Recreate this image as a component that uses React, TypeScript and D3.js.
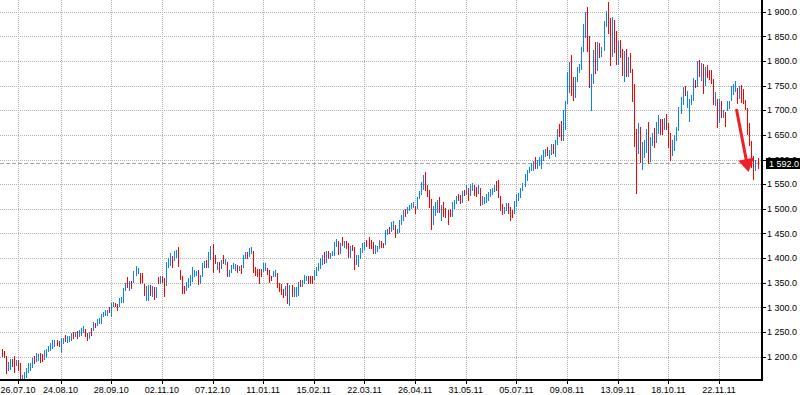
import React from "react";
import * as d3 from "d3";

// daily bars (high / low per bar, u = up bar, d = down bar)
const highs = [
  1216, 1212, 1201, 1190, 1196, 1196, 1201, 1194, 1193, 1187,
  1163, 1169, 1178, 1187, 1188, 1197, 1202, 1208, 1206, 1208,
  1206, 1214, 1215, 1222, 1228, 1233, 1234, 1234, 1231, 1238,
  1238, 1245, 1241, 1242, 1249, 1250, 1251, 1252, 1255, 1258,
  1263, 1256, 1249, 1251, 1258, 1271, 1269, 1276, 1278, 1287,
  1290, 1294, 1295, 1300, 1309, 1312, 1309, 1307, 1319, 1322,
  1339, 1350, 1362, 1354, 1354, 1373, 1384, 1379, 1370, 1369,
  1347, 1343, 1345, 1345, 1343, 1342, 1342, 1362, 1363, 1363,
  1360, 1393, 1400, 1411, 1405, 1415, 1416, 1422, 1376, 1363,
  1343, 1352, 1359, 1366, 1381, 1376, 1373, 1375, 1366, 1390,
  1395, 1396, 1413, 1425, 1429, 1406, 1393, 1392, 1396, 1406,
  1398, 1393, 1376, 1386, 1391, 1388, 1386, 1384, 1386, 1406,
  1412, 1413, 1420, 1422, 1415, 1383, 1377, 1377, 1377, 1390,
  1390, 1379, 1375, 1364, 1373, 1376, 1369, 1349, 1347, 1337,
  1344, 1349, 1346, 1346, 1342, 1342, 1352, 1355, 1355, 1366,
  1364, 1364, 1364, 1363, 1376, 1383, 1390, 1400, 1406, 1412,
  1415, 1415, 1410, 1415, 1433, 1439, 1435, 1430, 1442, 1435,
  1435, 1430, 1425, 1427, 1422, 1406, 1406, 1420, 1431, 1433,
  1437, 1443, 1437, 1433, 1427, 1425, 1437, 1435, 1431, 1457,
  1460, 1464, 1474, 1475, 1467, 1460, 1477, 1487, 1497, 1499,
  1504, 1507, 1511, 1514, 1505, 1524, 1536, 1555, 1568, 1575,
  1548, 1539, 1519, 1505, 1514, 1518, 1524, 1507, 1514, 1501,
  1497, 1499, 1514, 1518, 1526, 1530, 1528, 1537, 1539, 1548,
  1543, 1551, 1553, 1548, 1545, 1548, 1543, 1526, 1524, 1531,
  1534, 1541, 1543, 1548, 1557, 1558, 1526, 1510, 1504, 1512,
  1511, 1503, 1497, 1516, 1531, 1532, 1543, 1553, 1570, 1578,
  1585, 1593, 1598, 1605, 1600, 1605, 1609, 1619, 1622, 1626,
  1620, 1632, 1631, 1640, 1661, 1673, 1679, 1700, 1719, 1777,
  1798, 1813, 1767, 1767, 1787, 1793, 1828, 1876, 1899, 1910,
  1851, 1773, 1822, 1838, 1838, 1836, 1829, 1882, 1901, 1919,
  1887, 1889, 1883, 1860, 1841, 1843, 1824, 1820, 1824, 1809,
  1816, 1784, 1754, 1663, 1674, 1666, 1636, 1639, 1661, 1676,
  1646, 1654, 1665, 1676, 1690, 1683, 1683, 1685, 1692, 1674,
  1654, 1640, 1650, 1667, 1706, 1727, 1748, 1750, 1740, 1723,
  1730, 1766, 1762, 1800, 1802, 1795, 1794, 1787, 1792, 1782,
  1782, 1764, 1737, 1723, 1723, 1719, 1700, 1696, 1719, 1719,
  1750, 1754, 1760, 1745, 1750, 1752, 1743, 1721, 1705, 1674,
  1638, 1607, 1600, 1603,
];

const lows = [
  1201, 1199, 1166, 1174, 1176, 1181, 1168, 1183, 1174, 1156,
  1155, 1157, 1159, 1169, 1174, 1180, 1187, 1192, 1194, 1190,
  1191, 1196, 1199, 1211, 1214, 1218, 1222, 1224, 1222, 1209,
  1227, 1232, 1229, 1231, 1234, 1238, 1241, 1237, 1243, 1245,
  1251, 1241, 1234, 1238, 1245, 1255, 1261, 1265, 1269, 1269,
  1282, 1284, 1285, 1290, 1282, 1303, 1303, 1294, 1303, 1310,
  1310, 1336, 1342, 1336, 1339, 1352, 1366, 1369, 1349, 1352,
  1325, 1316, 1315, 1325, 1323, 1318, 1322, 1349, 1349, 1352,
  1324, 1345, 1383, 1386, 1383, 1396, 1403, 1384, 1358, 1329,
  1329, 1336, 1342, 1346, 1354, 1364, 1366, 1348, 1349, 1363,
  1381, 1381, 1383, 1398, 1371, 1390, 1378, 1371, 1379, 1390,
  1388, 1363, 1363, 1371, 1379, 1376, 1371, 1376, 1369, 1381,
  1400, 1400, 1404, 1410, 1371, 1366, 1363, 1350, 1364, 1373,
  1375, 1368, 1352, 1356, 1363, 1364, 1342, 1334, 1327, 1322,
  1325, 1309, 1305, 1323, 1323, 1323, 1326, 1344, 1344, 1349,
  1356, 1350, 1350, 1350, 1357, 1365, 1375, 1379, 1388, 1390,
  1392, 1400, 1400, 1406, 1406, 1425, 1408, 1410, 1427, 1422,
  1420, 1403, 1402, 1416, 1377, 1388, 1384, 1400, 1413, 1418,
  1425, 1420, 1420, 1410, 1410, 1415, 1420, 1422, 1422, 1429,
  1449, 1450, 1456, 1460, 1443, 1450, 1454, 1470, 1478, 1485,
  1492, 1497, 1501, 1504, 1491, 1501, 1522, 1531, 1541, 1538,
  1526, 1504, 1460, 1470, 1487, 1494, 1494, 1477, 1485, 1484,
  1469, 1485, 1485, 1501, 1511, 1518, 1511, 1514, 1528, 1531,
  1518, 1528, 1538, 1528, 1526, 1532, 1507, 1510, 1512, 1514,
  1518, 1526, 1530, 1537, 1539, 1524, 1497, 1489, 1492, 1497,
  1491, 1477, 1484, 1492, 1505, 1518, 1524, 1539, 1546, 1558,
  1575, 1578, 1578, 1582, 1582, 1588, 1582, 1600, 1607, 1609,
  1604, 1612, 1613, 1607, 1632, 1647, 1640, 1640, 1661, 1715,
  1737, 1730, 1721, 1727, 1759, 1777, 1784, 1820, 1848, 1821,
  1748, 1700, 1755, 1775, 1781, 1809, 1811, 1822, 1872, 1856,
  1791, 1811, 1818, 1794, 1793, 1808, 1771, 1760, 1769, 1769,
  1777, 1719, 1627, 1532, 1613, 1595, 1580, 1605, 1615, 1593,
  1598, 1629, 1626, 1636, 1654, 1651, 1652, 1661, 1661, 1625,
  1600, 1609, 1620, 1639, 1660, 1694, 1712, 1730, 1706, 1679,
  1713, 1720, 1747, 1750, 1769, 1762, 1735, 1752, 1768, 1764,
  1755, 1712, 1710, 1666, 1676, 1686, 1686, 1669, 1701, 1705,
  1720, 1733, 1740, 1715, 1725, 1717, 1714, 1703, 1652, 1629,
  1584, 1561, 1578, 1582,
];

const moves = [
  "ddduuddudd", "uuuuuuduud", "duuuuuuddu", "uduuududuu", "uddududuuu",
  "uuuduudduu", "uududuuudd", "duudududud", "duuuduuddd", "duuuuuuduu",
  "uduuddudud", "uduuuududu", "uduudddddu", "uddduudddd", "ududuuuduu",
  "uddduuuuud", "uduuuududu", "ddudduuuuu", "dddduuuddu", "uduuduuuud",
  "uuuuduuuud", "ddduuududd", "dduuuddudu", "duudduduuu", "uuuudddduu",
  "ddduuuuuuu", "uuuduuuuud", "uuduudduuu", "udduuuuuud", "duududuuud",
  "dudduddudu", "dddduduuud", "uuduuddudd", "duuuuuuduu", "uududududd",
  "ddudududuu", "uuududdddd", "ddud",
].join("");

const priceTicks = [1200, 1250, 1300, 1350, 1400, 1450, 1500, 1550, 1600, 1650, 1700, 1750, 1800, 1850, 1900];
const dateLabels = [
  "26.07.10", "24.08.10", "28.09.10", "02.11.10", "07.12.10", "11.01.11", "15.02.11", "22.03.11",
  "26.04.11", "31.05.11", "05.07.11", "09.08.11", "13.09.11", "18.10.11", "22.11.11",
];
const dateBars = [8, 29, 54, 79, 104, 129, 154, 179, 204, 229, 254, 279, 304, 329, 354];
const lastPrice = 1592.0;
const arrowFrom = { bar: 362.7, price: 1700 };
const arrowTo = { bar: 368.6, price: 1575 };

const W = 800;
const H = 395;
const axisX = 762;
const axisY = 380;
const UP = "#0a80ff";
const DOWN = "#ff0000";
const GRID = "#b4b4b4";
const FONT = "'Liberation Sans', Arial, sans-serif";

const fmt = d3
  .formatLocale({ decimal: ".", thousands: " ", grouping: [3], currency: ["", ""] })
  .format(",.1f");

export default function App() {
  const x = d3.scaleLinear().domain([0, highs.length - 1]).range([1.8, 757.5]);
  const y = d3.scaleLinear().domain([1200, 1900]).range([356.7, 11.7]);

  // arrow annotation
  const ax0 = x(arrowFrom.bar);
  const ay0 = y(arrowFrom.price);
  const ax1 = x(arrowTo.bar);
  const ay1 = y(arrowTo.price);
  const len = Math.hypot(ax1 - ax0, ay1 - ay0);
  const ux = (ax1 - ax0) / len;
  const uy = (ay1 - ay0) / len;
  const headLen = 13;
  const headHalf = 8;
  const bx = ax1 - ux * headLen;
  const by = ay1 - uy * headLen;
  const head = [
    [ax1, ay1],
    [bx - uy * headHalf, by + ux * headHalf],
    [bx + uy * headHalf, by - ux * headHalf],
  ];

  const lastY = Math.round(y(lastPrice)) + 0.5;

  return (
    <svg
      width={W}
      height={H}
      style={{ position: "absolute", left: 0, top: 0, display: "block", background: "#fff" }}
      fontFamily={FONT}
    >
      <rect x={0} y={0} width={W} height={H} fill="#fff" />

      {/* grid */}
      {dateBars.map((b, k) => {
        const gx = Math.round(x(b)) + 0.5;
        return (
          <line key={"vg" + k} x1={gx} x2={gx} y1={0} y2={axisY} stroke={GRID} strokeDasharray="1,1" />
        );
      })}
      {priceTicks.map((p) => {
        const gy = Math.round(y(p)) + 0.5;
        return (
          <line key={"hg" + p} x1={0} x2={axisX} y1={gy} y2={gy} stroke={GRID} strokeDasharray="1,1" />
        );
      })}

      {/* current price line */}
      <line x1={0} x2={axisX} y1={lastY} y2={lastY} stroke="#a8a8a8" strokeDasharray="4,2" />

      {/* bars */}
      <g shapeRendering="crispEdges">
        {highs.map((hi, i) => {
          const top = Math.round(y(hi));
          const bot = Math.round(y(lows[i]));
          return (
            <rect
              key={i}
              x={Math.round(x(i))}
              y={top}
              width={1}
              height={Math.max(1, bot - top + 1)}
              fill={moves[i] === "u" ? UP : DOWN}
            />
          );
        })}
      </g>

      {/* arrow */}
      <line x1={ax0} y1={ay0} x2={bx} y2={by} stroke="#ec2129" strokeWidth={3} strokeLinecap="round" />
      <polygon points={head.map((p) => p.join(",")).join(" ")} fill="#ec2129" />

      {/* axes */}
      <g shapeRendering="crispEdges">
        <rect x={axisX - 1} y={0} width={2} height={axisY + 1} fill="#000" />
        <rect x={0} y={axisY - 1} width={axisX + 1} height={2} fill="#000" />
        {priceTicks.map((p) => {
          const ty = Math.round(y(p)) + 0.5;
          return <line key={"yt" + p} x1={axisX + 1} x2={axisX + 4} y1={ty} y2={ty} stroke="#000" />;
        })}
        {dateBars.map((b, k) => {
          const tx = Math.round(x(b)) + 0.5;
          return <line key={"xt" + k} x1={tx} x2={tx} y1={axisY + 1} y2={axisY + 4} stroke="#000" />;
        })}
      </g>

      {priceTicks.map((p) => (
        <text key={"yl" + p} x={axisX + 5} y={y(p) + 3.2} fontSize={9} fill="#000">
          {fmt(p)}
        </text>
      ))}
      {dateBars.map((b, k) => (
        <text key={"xl" + k} x={x(b)} y={392.5} fontSize={9} fill="#000" textAnchor="middle">
          {dateLabels[k]}
        </text>
      ))}

      {/* last price box */}
      <rect x={axisX + 4} y={lastY - 5.5} width={W - axisX - 4} height={11} fill="#000" />
      <text x={axisX + 7} y={lastY + 3.2} fontSize={9} fill="#fff">
        {fmt(lastPrice)}
      </text>
    </svg>
  );
}
